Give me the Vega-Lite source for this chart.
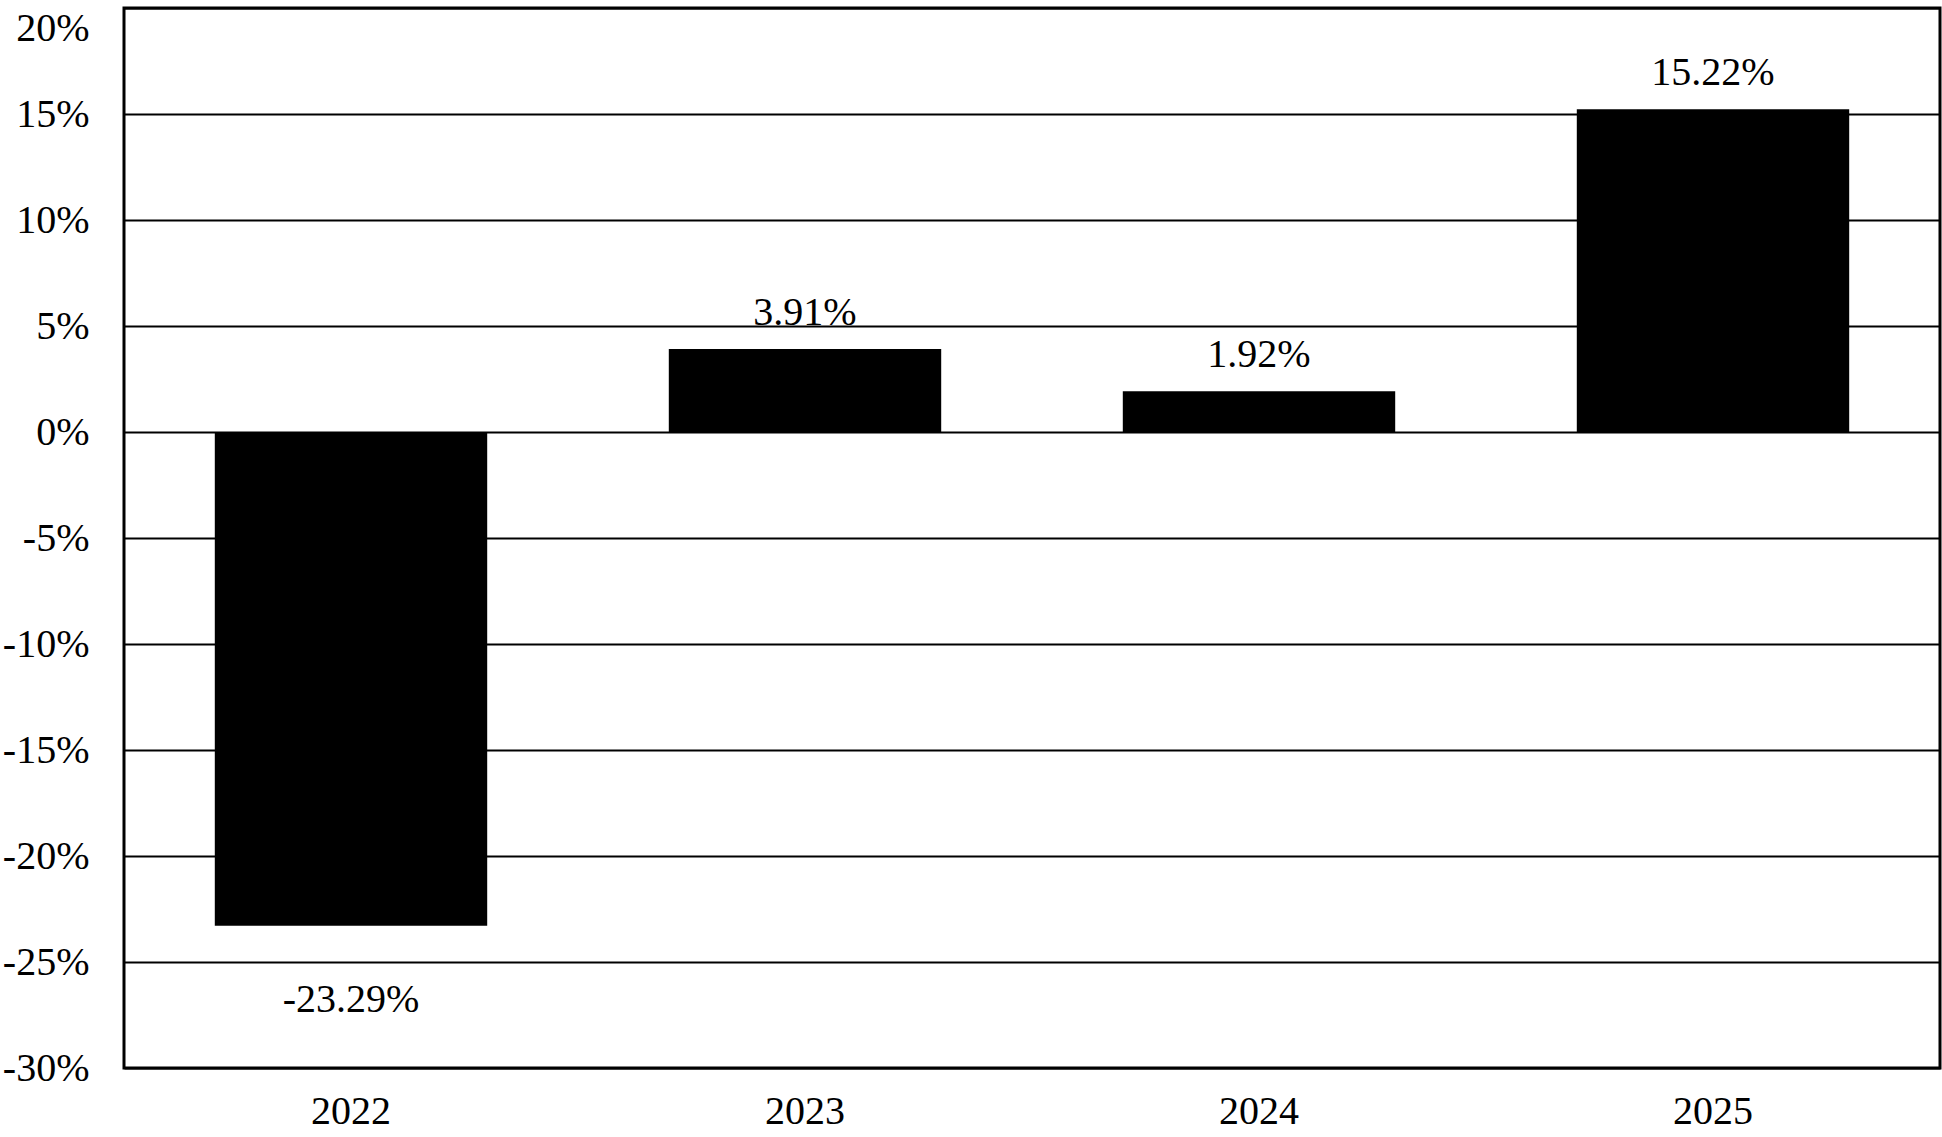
{
  "$schema": "https://vega.github.io/schema/vega-lite/v6.json",
  "width": 1816,
  "height": 1060,
  "autosize": {"type": "none"},
  "padding": {"left": 124, "top": 8, "right": 2, "bottom": 69},
  "background": "white",
  "config": {
    "font": "Liberation Serif",
    "view": {"stroke": "black", "strokeWidth": 3},
    "axis": {
      "labelFont": "Liberation Serif",
      "labelFontSize": 40,
      "labelColor": "black",
      "ticks": false,
      "domain": false,
      "title": null
    }
  },
  "data": {
    "values": [
      {"year": "2022", "value": -23.29, "label": "-23.29%"},
      {"year": "2023", "value": 3.91, "label": "3.91%"},
      {"year": "2024", "value": 1.92, "label": "1.92%"},
      {"year": "2025", "value": 15.22, "label": "15.22%"}
    ]
  },
  "encoding": {
    "x": {
      "field": "year",
      "type": "nominal",
      "scale": {"paddingInner": 0.4, "paddingOuter": 0.2},
      "axis": {"labelAngle": 0, "labelPadding": 23, "labelBaseline": "top", "grid": false}
    },
    "y": {
      "field": "value",
      "type": "quantitative",
      "scale": {"domain": [-30, 20], "nice": false, "zero": false},
      "axis": {
        "values": [-30, -25, -20, -15, -10, -5, 0, 5, 10, 15, 20],
        "labelExpr": "datum.value + '%'",
        "labelPadding": 35,
        "labelBaseline": {"condition": {"test": "datum.value == 20", "value": "top"}, "value": "middle"},
        "grid": true,
        "gridColor": "black",
        "gridWidth": 2,
        "gridOpacity": 1
      }
    }
  },
  "layer": [
    {"mark": {"type": "bar", "color": "black"}},
    {
      "transform": [{"filter": "datum.value >= 0"}],
      "mark": {"type": "text", "fontSize": 40, "color": "black", "baseline": "alphabetic", "dy": -24},
      "encoding": {"text": {"field": "label"}}
    },
    {
      "transform": [{"filter": "datum.value < 0"}],
      "mark": {"type": "text", "fontSize": 40, "color": "black", "baseline": "alphabetic", "dy": 86},
      "encoding": {"text": {"field": "label"}}
    }
  ]
}
